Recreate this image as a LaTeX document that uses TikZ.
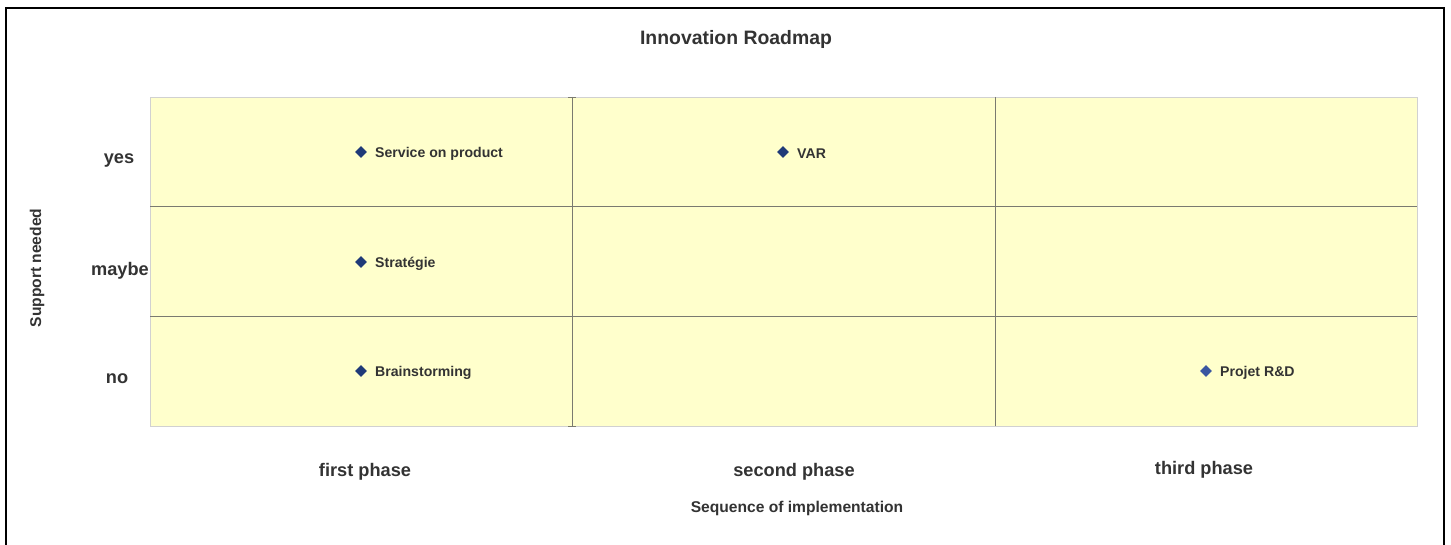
\documentclass[tikz,border=0pt]{standalone}
\usepackage{fontspec}
\setmainfont{Liberation Sans}
\usetikzlibrary{shapes.geometric}
\definecolor{txt}{HTML}{333333}
\definecolor{plotbg}{HTML}{FFFFCC}
\definecolor{grid}{HTML}{7A7A70}
\definecolor{mk}{HTML}{1F3A78}
\definecolor{mkb}{HTML}{3A56A0}
\tikzset{
  axlab/.style={font=\bfseries\fontsize{18.2}{21}\selectfont, text=txt, inner sep=0pt},
  ttl/.style={font=\bfseries\fontsize{15.6}{18}\selectfont, text=txt, inner sep=0pt},
  ptlab/.style={font=\bfseries\fontsize{14.1}{17}\selectfont, text=txt, inner sep=0pt, anchor=west},
  dmk/.style={diamond, fill=mk, minimum width=12pt, minimum height=12pt, inner sep=0pt},
  gridline/.style={draw=grid, line width=0.9pt},
}
\begin{document}
\begin{tikzpicture}[x=1pt,y=-1pt]
\useasboundingbox (0,0) rectangle (1451,545);
\fill[white] (0,0) rectangle (1451,545);
% outer frame (bottom edge cut)
\draw[black, line width=1.6pt] (6,560) -- (6,8) -- (1444,8) -- (1444,560);
% plot area
\fill[plotbg, draw=black!18, line width=0.8pt] (150,97) rectangle (1417,426);
\draw[gridline] (150,206) -- (1417,206);
\draw[gridline] (150,316) -- (1417,316);
\draw[gridline] (572,97) -- (572,426);
\draw[gridline] (995,97) -- (995,426);
\draw[gridline] (568,97) -- (576,97);
\draw[gridline] (568,426) -- (576,426);
% title
\node[axlab, font=\bfseries\fontsize{19.4}{22}\selectfont] (title) at (736,39) {Innovation Roadmap};
% y labels
\node[axlab] (yes) at (119,160) {yes};
\node[axlab] (maybe) at (120,271) {maybe};
\node[axlab] (no) at (117,379) {no};
\node[ttl, rotate=90] (ytitle) at (37,268) {Support needed};
% x labels
\node[axlab] (p1) at (365,472) {first phase};
\node[axlab] (p2) at (794,472) {second phase};
\node[axlab] (p3) at (1204,470) {third phase};
\node[ttl] (xtitle) at (797,508) {Sequence of implementation};
% points
\node[dmk] (d1) at (361,152) {};
\node[ptlab] (l1) at (375,154) {Service on product};
\node[dmk] (d2) at (783,152) {};
\node[ptlab] (l2) at (797,154) {VAR};
\node[dmk] (d3) at (361,262) {};
\node[ptlab] (l3) at (375,264) {Stratégie};
\node[dmk] (d4) at (361,371) {};
\node[ptlab] (l4) at (375,373) {Brainstorming};
\node[dmk, fill=mkb] (d5) at (1206,371) {};
\node[ptlab] (l5) at (1220,373) {Projet R\&D};
\end{tikzpicture}
\end{document}
